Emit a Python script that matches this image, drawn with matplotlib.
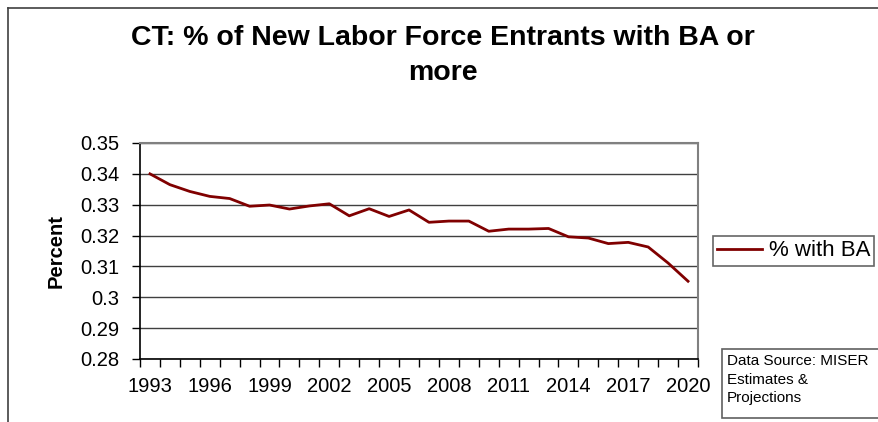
import matplotlib
matplotlib.use('Agg')
import matplotlib.pyplot as plt
from matplotlib.lines import Line2D
from matplotlib.patches import Rectangle
import numpy as np

plt.rcParams['font.family'] = ['Liberation Sans', 'DejaVu Sans']

# values
years = list(range(1993, 2021))
pct_ba = [0.3400, 0.3365, 0.3343, 0.3327, 0.3320, 0.3295, 0.3299, 0.3286,
          0.3296, 0.3303, 0.3264, 0.3287, 0.3262, 0.3283, 0.3243, 0.3247,
          0.3247, 0.3214, 0.3221, 0.3221, 0.3223, 0.3196, 0.3192, 0.3174,
          0.3178, 0.3163, 0.3111, 0.3052]
yticks = [0.28, 0.29, 0.30, 0.31, 0.32, 0.33, 0.34, 0.35]
ytick_labels = ['0.28', '0.29', '0.3', '0.31', '0.32', '0.33', '0.34', '0.35']

fig = plt.figure(figsize=(8.79, 4.22), dpi=100)
ax = fig.add_axes([140/879, 1-359/422, 558/879, 216/422])

x = np.arange(len(years))
line, = ax.plot(x, pct_ba, color='#800000', lw=2, label='% with BA')

ax.set_xlim(-0.5, len(years) - 0.5)
ax.set_ylim(0.28, 0.35)
ax.set_yticks(yticks)
ax.set_yticklabels(ytick_labels, fontsize=14.5)
ax.yaxis.grid(True, color='#404040', lw=1)
ax.set_axisbelow(True)

# category ticks between years, labels every 3 years
ax.set_xticks(x[::3])
ax.set_xticklabels([str(y) for y in years[::3]], fontsize=14.5)
ax.tick_params(axis='x', length=0, pad=13)
ax.set_xticks(np.arange(-0.5, len(years)), minor=True)
ax.tick_params(axis='x', which='minor', length=6, color='black', width=1)
ax.tick_params(axis='y', length=6, width=1, pad=9)

for s in ['top', 'right']:
    ax.spines[s].set_color('#808080')
    ax.spines[s].set_linewidth(1.5)
for s in ['left', 'bottom']:
    ax.spines[s].set_color('black')
    ax.spines[s].set_linewidth(1.2)

ax.set_ylabel('Percent', fontsize=14.5, fontweight='bold', labelpad=10)

fig.text(443/879, 1-38/422, 'CT: % of New Labor Force Entrants with BA or',
         ha='center', va='center', fontsize=20.5, fontweight='bold')
fig.text(443/879, 1-73/422, 'more', ha='center', va='center',
         fontsize=20.5, fontweight='bold')

leg = fig.legend(handles=[line], loc='center left',
                 bbox_to_anchor=(713/879, 1-251/422), fontsize=16,
                 frameon=True, fancybox=False, handlelength=2.0,
                 handletextpad=0.3, borderpad=0.2, borderaxespad=0)
leg.get_frame().set_edgecolor('#404040')
leg.get_frame().set_linewidth(1.2)

# data source note, box runs off the right edge like the original
fig.add_artist(Rectangle((722/879, 1-418/422), 180/879, 69/422,
                         transform=fig.transFigure, fc='white',
                         ec='#606060', lw=1.2))
fig.text(727/879, 1-354/422, 'Data Source: MISER\nEstimates &\nProjections',
         ha='left', va='top', fontsize=11, linespacing=1.42)

# outer chart border
fig.add_artist(Line2D([8/879, 8/879], [0, 1-8/422], transform=fig.transFigure,
                      color='#404040', lw=1.2))
fig.add_artist(Line2D([8/879, 1], [1-8/422, 1-8/422], transform=fig.transFigure,
                      color='#404040', lw=1.2))

fig.savefig('out.png', dpi=100)
